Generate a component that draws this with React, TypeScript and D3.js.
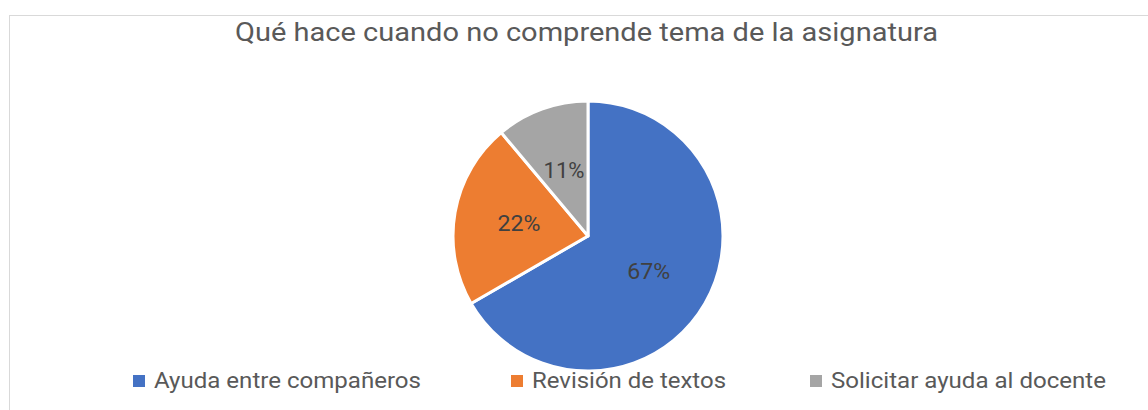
import React from "react";
import * as d3 from "d3";

const categories = ["Ayuda entre compañeros", "Revisión de textos", "Solicitar ayuda al docente"];
const counts = [6, 2, 1];
const percentLabels = ["67%", "22%", "11%"];
const colors = ["#4472C4", "#ED7D31", "#A5A5A5"];
const title = "Qué hace cuando no comprende tema de la asignatura";

const W = 1148;
const H = 410;
const cx = 588;
const cy = 236;
const R = 135;

export default function App() {
  const pie = d3.pie<number>().sort(null).value((d) => d)(counts);
  const arc = d3.arc<d3.PieArcDatum<number>>().innerRadius(0).outerRadius(R);
  const labelArc = d3.arc<d3.PieArcDatum<number>>().innerRadius(R * 0.52).outerRadius(R * 0.52);
  const legendX = [133, 511, 810];
  const legendLen = [267, 194, 275];
  const labelLen = [43, 43, 41];
  const font = "Roboto, 'Noto Sans', sans-serif";
  return (
    <svg width={W} height={H} style={{ position: "absolute", left: 0, top: 0 }} fontFamily={font}>
      <rect x={0} y={0} width={W} height={H} fill="#fff" />
      <rect x={9.5} y={15.5} width={W + 20} height={H + 20} fill="#fff" stroke="#d9d9d9" strokeWidth={1} />
      <text x={235} y={41} fontSize={25} fill="#595959" textLength={703} lengthAdjust="spacingAndGlyphs">{title}</text>
      <g transform={`translate(${cx},${cy})`}>
        {pie.map((p, i) => (
          <path key={i} d={arc(p) || ""} fill={colors[i]} stroke="#fff" strokeWidth={3} strokeLinejoin="round" />
        ))}
        {pie.map((p, i) => {
          const [x, y] = labelArc.centroid(p);
          return (
            <text key={i} x={x - labelLen[i] / 2} y={y} dominantBaseline="central" fontSize={22} fill="#404040"
              textLength={labelLen[i]} lengthAdjust="spacingAndGlyphs">
              {percentLabels[i]}
            </text>
          );
        })}
      </g>
      {categories.map((c, i) => (
        <g key={i}>
          <rect x={legendX[i]} y={375} width={12} height={12} fill={colors[i]} />
          <text x={legendX[i] + 21} y={388} fontSize={22} fill="#595959" textLength={legendLen[i]} lengthAdjust="spacingAndGlyphs">{c}</text>
        </g>
      ))}
    </svg>
  );
}
